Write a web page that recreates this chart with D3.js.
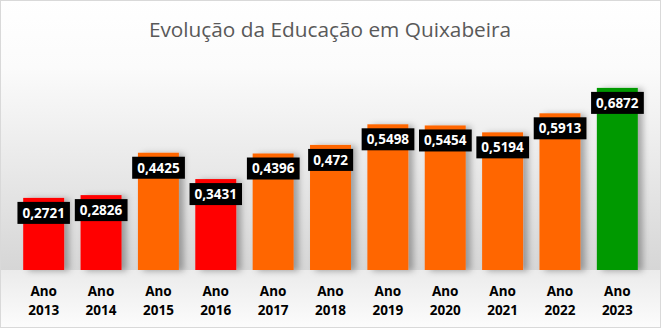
<!DOCTYPE html>
<html>
<head>
<meta charset="utf-8">
<script src="https://cdn.jsdelivr.net/npm/d3@7"></script>
<style>
  html, body { margin: 0; padding: 0; background: #fff; }
  svg { display: block; }
</style>
</head>
<body>
<svg id="chart" width="661" height="328"></svg>
<script>
// Education index per year in Quixabeira
const years = ["2013", "2014", "2015", "2016", "2017", "2018", "2019", "2020", "2021", "2022", "2023"];
const values = [0.2721, 0.2826, 0.4425, 0.3431, 0.4396, 0.472, 0.5498, 0.5454, 0.5194, 0.5913, 0.6872];
const barColors = ["#ff0000", "#ff0000", "#ff6600", "#ff0000", "#ff6600", "#ff6600", "#ff6600", "#ff6600", "#ff6600", "#ff6600", "#009900"];
const titleText = "Evolução da Educação em Quixabeira";
const axisPrefix = "Ano";

const W = 661, H = 328;
const svg = d3.select("#chart");
const defs = svg.append("defs");

// backdrop: wall fades from white to gray, floor is lighter below the baseline
const wall = defs.append("linearGradient").attr("id", "wall").attr("x1", 0).attr("y1", 0).attr("x2", 0).attr("y2", 1);
wall.append("stop").attr("offset", "0%").attr("stop-color", "#ffffff");
wall.append("stop").attr("offset", "25%").attr("stop-color", "#fbfbfb");
wall.append("stop").attr("offset", "100%").attr("stop-color", "#d6d6d6");
const floor = defs.append("linearGradient").attr("id", "floor").attr("x1", 0).attr("y1", 0).attr("x2", 0).attr("y2", 1);
floor.append("stop").attr("offset", "0%").attr("stop-color", "#ebebeb");
floor.append("stop").attr("offset", "100%").attr("stop-color", "#fcfcfc");

const shadow = defs.append("filter").attr("id", "shadow")
  .attr("x", "-20%").attr("y", "-10%").attr("width", "160%").attr("height", "130%");
shadow.append("feDropShadow").attr("dx", 5).attr("dy", 1).attr("stdDeviation", 3)
  .attr("flood-color", "#000").attr("flood-opacity", 0.3);

const baseY = 270;
svg.append("rect").attr("x", 0).attr("y", 0).attr("width", W).attr("height", baseY).attr("fill", "url(#wall)");
svg.append("rect").attr("x", 0).attr("y", baseY).attr("width", W).attr("height", H - baseY).attr("fill", "url(#floor)");
svg.append("rect").attr("x", 0.5).attr("y", 0.5).attr("width", W - 1).attr("height", H - 1)
  .attr("fill", "none").attr("stroke", "#d9d9d9");

// title
svg.append("text").attr("x", 330).attr("y", 37).attr("text-anchor", "middle")
  .attr("font-family", "'Open Sans', 'Noto Sans', sans-serif").attr("font-size", 20.8)
  .attr("fill", "#595959").text(titleText);

// scales
const x = d3.scaleBand().domain(years).range([15, 646]).paddingInner(0.286).paddingOuter(0.143);
const y = d3.scaleLinear().domain([0, 0.8]).range([baseY, 58]);

const data = years.map((yr, i) => ({ yr, v: values[i], c: barColors[i] }));

// bars
svg.append("g").selectAll("rect").data(data).join("rect")
  .attr("x", d => x(d.yr)).attr("y", d => y(d.v))
  .attr("width", x.bandwidth()).attr("height", d => y(0) - y(d.v))
  .attr("fill", d => d.c).attr("filter", "url(#shadow)");

// value labels on black boxes
const fmt = v => String(v).replace(".", ",");
const lbl = svg.append("g").selectAll("g").data(data).join("g")
  .attr("transform", d => `translate(${x(d.yr) + x.bandwidth() / 2},${y(d.v) + 15})`);
lbl.append("text").attr("text-anchor", "middle").attr("dy", "0.36em")
  .attr("font-family", "'Noto Sans', 'DejaVu Sans', sans-serif").attr("font-weight", "bold")
  .attr("font-size", 13.5).attr("fill", "#ffffff").text(d => fmt(d.v));
lbl.each(function () {
  const g = d3.select(this);
  const bb = g.select("text").node().getBBox();
  g.insert("rect", "text").attr("x", bb.x - 5).attr("y", -11).attr("width", bb.width + 10).attr("height", 22)
    .attr("fill", "#000");
});

// category axis, two-line labels
const xAxis = svg.append("g").attr("transform", `translate(0,${baseY})`)
  .call(d3.axisBottom(x).tickSize(0).tickPadding(0).tickFormat(() => ""));
xAxis.select(".domain").remove();
xAxis.selectAll(".tick text").each(function (d) {
  const t = d3.select(this).attr("y", 0).attr("dy", null)
    .attr("font-family", "'Noto Sans', 'DejaVu Sans', sans-serif").attr("font-weight", "bold")
    .attr("font-size", 13.5).attr("fill", "#000");
  t.append("tspan").attr("x", 0).attr("y", 26).text(axisPrefix);
  t.append("tspan").attr("x", 0).attr("y", 45).text(d);
});
</script>
</body>
</html>
